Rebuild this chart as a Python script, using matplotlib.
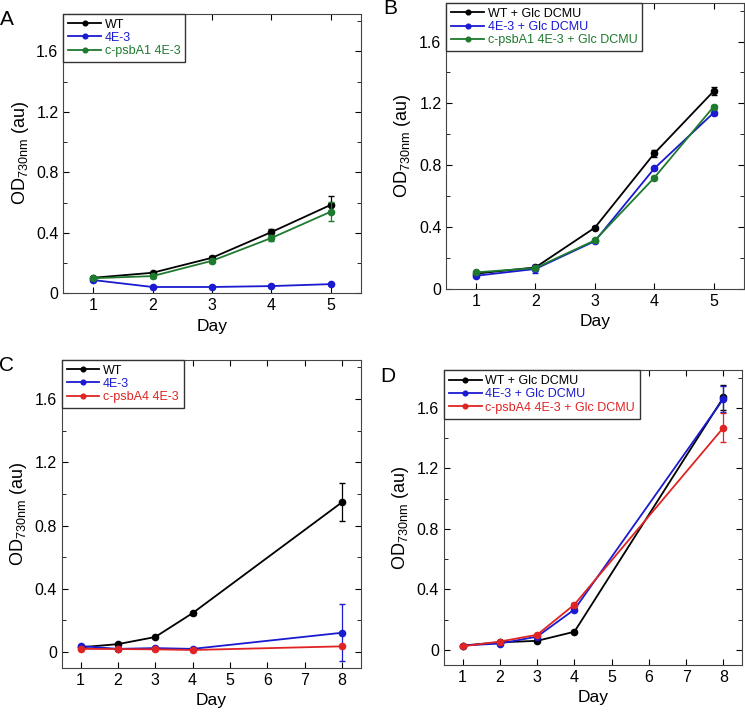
import matplotlib.pyplot as plt
from matplotlib.ticker import MultipleLocator

plt.rcParams['font.family'] = ['Liberation Sans', 'DejaVu Sans']

days_ab = [1, 2, 3, 4, 5]
days_cd = [1, 2, 3, 4, 8]

# Panel A
a_wt = [0.103, 0.136, 0.235, 0.405, 0.585]
a_wt_err = [0.005, 0.008, 0.010, 0.022, 0.057]
a_4e3 = [0.088, 0.042, 0.042, 0.048, 0.061]
a_4e3_err = [0.004, 0.004, 0.004, 0.004, 0.006]
a_comp = [0.100, 0.114, 0.215, 0.366, 0.540]
a_comp_err = [0.005, 0.010, 0.012, 0.022, 0.062]

# Panel B
b_wt = [0.100, 0.140, 0.397, 0.877, 1.280]
b_wt_err = [0.006, 0.008, 0.010, 0.022, 0.025]
b_4e3 = [0.086, 0.130, 0.310, 0.780, 1.140]
b_4e3_err = [0.006, 0.025, 0.008, 0.012, 0.015]
b_comp = [0.108, 0.136, 0.315, 0.720, 1.180]
b_comp_err = [0.005, 0.008, 0.008, 0.010, 0.010]

# Panel C
c_wt = [0.030, 0.050, 0.095, 0.246, 0.947]
c_wt_err = [0.004, 0.006, 0.008, 0.010, 0.120]
c_4e3 = [0.038, 0.020, 0.025, 0.020, 0.122]
c_4e3_err = [0.004, 0.004, 0.004, 0.004, 0.180]
c_comp = [0.020, 0.019, 0.017, 0.013, 0.036]
c_comp_err = [0.003, 0.003, 0.003, 0.003, 0.004]

# Panel D
d_wt = [0.029, 0.050, 0.060, 0.120, 1.670]
d_wt_err = [0.004, 0.005, 0.006, 0.008, 0.080]
d_4e3 = [0.029, 0.042, 0.088, 0.267, 1.660]
d_4e3_err = [0.004, 0.005, 0.006, 0.010, 0.085]
d_comp = [0.024, 0.055, 0.100, 0.300, 1.470]
d_comp_err = [0.004, 0.005, 0.006, 0.010, 0.095]

blue = '#1a1ad0'
green = '#1e7a2e'
red = '#e02424'

panels = [
    ('A', [0.085, 0.588, 0.399, 0.393], days_ab, (0.5, 5.5), (0, 1.85),
     [(a_wt, a_wt_err, 'black', 'WT'),
      (a_4e3, a_4e3_err, blue, '4E-3'),
      (a_comp, a_comp_err, green, 'c-psbA1 4E-3')]),
    ('B', [0.599, 0.594, 0.399, 0.402], days_ab, (0.5, 5.5), (0, 1.85),
     [(b_wt, b_wt_err, 'black', 'WT + Glc DCMU'),
      (b_4e3, b_4e3_err, blue, '4E-3 + Glc DCMU'),
      (b_comp, b_comp_err, green, 'c-psbA1 4E-3 + Glc DCMU')]),
    ('C', [0.083, 0.062, 0.401, 0.433], days_cd, (0.5, 8.5), (-0.1, 1.85),
     [(c_wt, c_wt_err, 'black', 'WT'),
      (c_4e3, c_4e3_err, blue, '4E-3'),
      (c_comp, c_comp_err, red, 'c-psbA4 4E-3')]),
    ('D', [0.596, 0.066, 0.400, 0.414], days_cd, (0.5, 8.5), (-0.1, 1.85),
     [(d_wt, d_wt_err, 'black', 'WT + Glc DCMU'),
      (d_4e3, d_4e3_err, blue, '4E-3 + Glc DCMU'),
      (d_comp, d_comp_err, red, 'c-psbA4 4E-3 + Glc DCMU')]),
]

fig = plt.figure(figsize=(7.45, 7.12), dpi=100)

for letter, rect, days, xlim, ylim, series in panels:
    ax = fig.add_axes(rect)
    for vals, errs, col, lab in series:
        ax.errorbar(days, vals, yerr=errs, color=col, fmt='none',
                    elinewidth=0.9, capsize=2)
        ax.plot(days, vals, color=col, marker='o', markersize=4.5,
                linewidth=1.3, label=lab)
    ax.set_xlim(*xlim)
    ax.set_ylim(*ylim)
    ax.set_xticks(range(1, int(xlim[1] + 0.5)))
    ax.yaxis.set_minor_locator(MultipleLocator(0.2))
    ax.set_yticks([0, 0.4, 0.8, 1.2, 1.6])
    ax.set_yticklabels(['0', '0.4', '0.8', '1.2', '1.6'])
    ax.tick_params(direction='in', top=True, right=True, labelsize=11.5, length=4)
    ax.tick_params(which='minor', direction='in', right=True, length=3)
    for s in ax.spines.values():
        s.set_color('#444444')
    ax.set_xlabel('Day', fontsize=12.5)
    ax.set_ylabel(r'OD$_{\mathregular{730nm}}$ (au)', fontsize=13)
    leg = ax.legend(loc='upper left', borderaxespad=0, fontsize=9,
                    handlelength=2.6, handletextpad=0.3, labelspacing=0.1,
                    markerscale=0.75, fancybox=False, framealpha=1,
                    edgecolor='#333333')
    for txt, (_, _, col, _) in zip(leg.get_texts(), series):
        txt.set_color(col)
    fig.text(rect[0] - 0.085, rect[1] + rect[3] + 0.005, letter, fontsize=15,
             va='top', ha='left')

fig.savefig('out.png', dpi=100)
